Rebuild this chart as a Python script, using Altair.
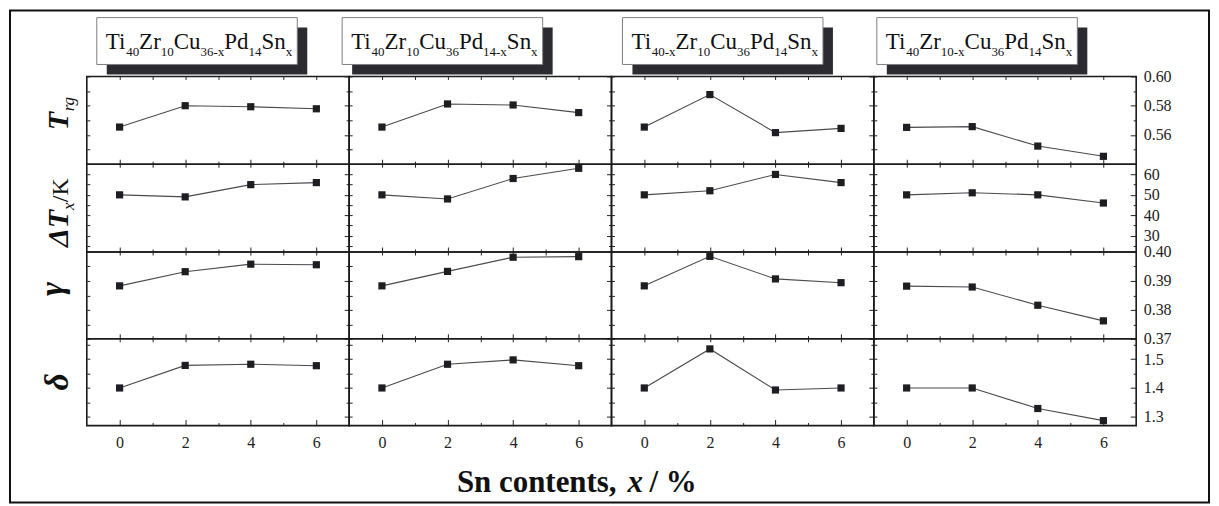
import altair as alt
import pandas as pd

SERIF = "Liberation Serif"

# ---------------- data ----------------
x_vals = [0, 2, 4, 6]

trg_values = [
    [0.5654, 0.5800, 0.5793, 0.5779],
    [0.5654, 0.5812, 0.5805, 0.5753],
    [0.5654, 0.5876, 0.5616, 0.5645],
    [0.5652, 0.5657, 0.5524, 0.5454],
]
dtx_values = [
    [50, 49, 55, 56],
    [50, 48, 58, 63],
    [50, 52, 60, 56],
    [50, 51, 50, 46],
]
gamma_values = [
    [0.3883, 0.3932, 0.3958, 0.3956],
    [0.3883, 0.3933, 0.3982, 0.3984],
    [0.3883, 0.3985, 0.3907, 0.3894],
    [0.3882, 0.3879, 0.3816, 0.3762],
]
delta_values = [
    [1.400, 1.478, 1.482, 1.477],
    [1.400, 1.482, 1.497, 1.477],
    [1.400, 1.535, 1.393, 1.400],
    [1.400, 1.400, 1.329, 1.287],
]
row_values = [trg_values, dtx_values, gamma_values, delta_values]

column_titles = [
    [("Ti", 0), ("40", 1), ("Zr", 0), ("10", 1), ("Cu", 0), ("36-x", 1), ("Pd", 0), ("14", 1), ("Sn", 0), ("x", 1)],
    [("Ti", 0), ("40", 1), ("Zr", 0), ("10", 1), ("Cu", 0), ("36", 1), ("Pd", 0), ("14-x", 1), ("Sn", 0), ("x", 1)],
    [("Ti", 0), ("40-x", 1), ("Zr", 0), ("10", 1), ("Cu", 0), ("36", 1), ("Pd", 0), ("14", 1), ("Sn", 0), ("x", 1)],
    [("Ti", 0), ("40", 1), ("Zr", 0), ("10-x", 1), ("Cu", 0), ("36", 1), ("Pd", 0), ("14", 1), ("Sn", 0), ("x", 1)],
]

y_domains = [[0.54, 0.60], [22, 65], [0.37, 0.40], [1.27, 1.57]]
y_major = [[0.56, 0.58, 0.60], [30, 40, 50, 60], [0.37, 0.38, 0.39, 0.40], [1.3, 1.4, 1.5]]
y_minor = [[0.55, 0.57, 0.59], [25, 35, 45, 55], [0.375, 0.385, 0.395], [1.35, 1.45, 1.55]]
y_formats = [".2f", "d", ".2f", ".1f"]
x_major = [0, 2, 4, 6]
x_minor = [1, 3, 5]
x_label = ["Sn contents,", "x", "/ %"]

# ---------------- layout constants ----------------
PW = 263
PH = [88, 88, 87, 87]
BOX_X = [10, -7, 11, 3]
BOX_W = 201

TIMES_W = {"T": .611, "i": .278, "Z": .611, "r": .333, "C": .667, "u": .5, "P": .556,
           "d": .5, "S": .556, "n": .5, "x": .5, "-": .333}

ONE = pd.DataFrame({"k": [0]})


def text_w(s, fs):
    return sum(TIMES_W.get(ch, 0.5) for ch in s) * fs


def txt(text, x, y, size, weight="normal", style="normal", angle=0, align="left",
        baseline="alphabetic", color="#111111"):
    kw = dict(text=text, font=SERIF, fontSize=size, fontWeight=weight, fontStyle=style,
              align=align, baseline=baseline, color=color)
    if angle:
        kw["angle"] = angle
    return alt.Chart(ONE).mark_text(**kw).encode(x=alt.value(x), y=alt.value(y))


def tick_axis(orient, values, size, labels=False, fmt=None, pad=6):
    kw = dict(orient=orient, values=values, tickSize=size, offset=-size, domain=False,
              grid=False, labels=labels, ticks=True, tickColor="#222222", tickWidth=1,
              title=None)
    if labels:
        kw.update(labelFont=SERIF, labelFontSize=16, labelColor="#222222",
                  labelPadding=pad, labelOverlap=False, labelFlush=False, labelBound=False)
        if fmt:
            kw["format"] = fmt
    return alt.Axis(**kw)


def panel(r, c):
    df = pd.DataFrame({"x": x_vals, "y": row_values[r][c]})
    xs = alt.Scale(domain=[-1, 7], nice=False, zero=False)
    ys = alt.Scale(domain=y_domains[r], nice=False, zero=False)
    base = alt.Chart(df)

    def ax_layer(xaxis=None, yaxis=None):
        return base.mark_point(opacity=0).encode(
            x=alt.X("x:Q", scale=xs, axis=xaxis),
            y=alt.Y("y:Q", scale=ys, axis=yaxis),
        )

    layers = []
    layers.append(ax_layer(xaxis=tick_axis("top", x_major + x_minor, 3)))
    if r == 3:
        layers.append(ax_layer(xaxis=tick_axis("bottom", x_major, 6, labels=True, fmt="d", pad=9)))
    else:
        layers.append(ax_layer(xaxis=tick_axis("bottom", x_major, 5)))
    layers.append(ax_layer(xaxis=tick_axis("bottom", x_minor, 3)))
    layers.append(ax_layer(yaxis=tick_axis("left", y_major[r] + y_minor[r], 3)))
    if c == 3:
        layers.append(ax_layer(yaxis=tick_axis("right", y_major[r], 6, labels=True,
                                               fmt=y_formats[r], pad=7)))
    else:
        layers.append(ax_layer(yaxis=tick_axis("right", y_major[r], 5)))
    layers.append(ax_layer(yaxis=tick_axis("right", y_minor[r], 3)))

    enc = dict(x=alt.X("x:Q", scale=xs, axis=None), y=alt.Y("y:Q", scale=ys, axis=None))
    layers.append(base.mark_line(color="#4a4a4a", strokeWidth=1.1).encode(**enc))
    layers.append(base.mark_point(shape="square", filled=True, size=52, color="#1e1e22",
                                  opacity=1).encode(**enc))

    # column title boxes
    if r == 0:
        bx = BOX_X[c]
        layers.append(alt.Chart(ONE).mark_rect(color="#2b2b31").encode(
            x=alt.value(bx + 10), x2=alt.value(bx + 10 + BOX_W),
            y=alt.value(-49), y2=alt.value(-2)))
        layers.append(alt.Chart(ONE).mark_rect(fill="white", stroke="#808080", strokeWidth=1).encode(
            x=alt.value(bx), x2=alt.value(bx + BOX_W), y=alt.value(-59), y2=alt.value(-12)))
        px = bx + 9
        for piece, sub in column_titles[c]:
            fs = 13 if sub else 23
            layers.append(txt(piece, px, -21 if sub else -28, fs))
            px += text_w(piece, fs)
        if c == 0:
            # outer frame
            layers.append(alt.Chart(ONE).mark_rect(fillOpacity=0, stroke="#111111", strokeWidth=2).encode(
                x=alt.value(-77), x2=alt.value(1125), y=alt.value(-66), y2=alt.value(427)))

    # row labels
    if c == 0:
        if r == 0:
            layers.append(txt("T", -19, 54, 30, "bold", "italic", 270))
            layers.append(txt("rg", -13, 35, 17, "normal", "italic", 270))
        elif r == 1:
            layers.append(txt("ΔT", -19, 83, 30, "bold", "italic", 270))
            layers.append(txt("x", -13, 46, 17, "normal", "italic", 270))
            layers.append(txt("/K", -19, 38, 24, "normal", "normal", 270))
        elif r == 2:
            layers.append(txt("γ", -24, 37, 34, "bold", "italic", 270, align="center"))
        else:
            layers.append(txt("δ", -19, 43, 34, "bold", "italic", 270, align="center"))

    # x-axis title
    if r == 3 and c == 0:
        layers.append(txt(x_label[0], 371, 154, 31, "bold"))
        layers.append(txt(x_label[1], 542, 154, 31, "bold", "italic"))
        layers.append(txt(x_label[2], 564, 154, 31, "bold"))

    return alt.layer(*layers).resolve_axis(x="independent", y="independent").properties(
        width=PW, height=PH[r])


panels = [panel(r, c) for r in range(4) for c in range(4)]

chart = alt.concat(*panels, columns=4, spacing=0, bounds="flush", padding=0,
                   background="white").configure_view(
    stroke="#1a1a1a", strokeWidth=1.6
)

chart.save("out.html", embed_options={"renderer": "svg", "actions": False})
